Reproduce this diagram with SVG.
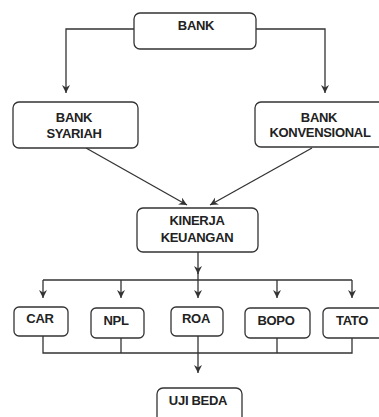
<svg xmlns="http://www.w3.org/2000/svg" width="379" height="417" viewBox="0 0 379 417">
<style>
.box{fill:#fff;stroke:#333;stroke-width:1.3}
.ln{fill:none;stroke:#333;stroke-width:1.3}
.t{font-family:"Liberation Sans",Arial,sans-serif;font-weight:bold;font-size:13px;fill:#222;text-anchor:middle;letter-spacing:-0.3px}
</style>
<defs>
<marker id="ah" markerUnits="userSpaceOnUse" markerWidth="10" markerHeight="10" refX="8" refY="4" orient="auto">
<path d="M0,0 L8,4 L0,8 L2.5,4 z" fill="#333"/>
</marker>
</defs>
<rect width="379" height="417" fill="#fff"/>
<g id="connectors">
<path class="ln" d="M134,29 H66 V93" marker-end="url(#ah)"/>
<path class="ln" d="M256,29 H325 V93" marker-end="url(#ah)"/>
<path class="ln" d="M86,148 L187,205" marker-end="url(#ah)"/>
<path class="ln" d="M312,148 L210,205" marker-end="url(#ah)"/>
<path class="ln" d="M198,252 V274" marker-end="url(#ah)"/>
<path class="ln" d="M198,272 V280"/>
<path class="ln" d="M43,280 H352"/>
<path class="ln" d="M43,280 V298" marker-end="url(#ah)"/>
<path class="ln" d="M121,280 V298" marker-end="url(#ah)"/>
<path class="ln" d="M198,280 V298" marker-end="url(#ah)"/>
<path class="ln" d="M277,280 V298" marker-end="url(#ah)"/>
<path class="ln" d="M352,280 V298" marker-end="url(#ah)"/>
<path class="ln" d="M43,336 V353 H352 V337"/>
<path class="ln" d="M121,338 V353"/>
<path class="ln" d="M277,338 V353"/>
<path class="ln" d="M198,336 V373" marker-end="url(#ah)"/>
</g>
<g id="bank"><rect class="box" x="134" y="13" width="122" height="36" rx="6"/><text class="t" x="196" y="30">BANK</text></g>
<g id="bank-syariah"><rect class="box" x="13" y="102" width="125" height="46" rx="6"/><text class="t" x="74" y="122">BANK</text><text class="t" x="74" y="138">SYARIAH</text></g>
<g id="bank-konvensional"><rect class="box" x="255" y="102" width="130" height="45" rx="6"/><text class="t" x="319" y="122">BANK</text><text class="t" x="320" y="137">KONVENSIONAL</text></g>
<g id="kinerja"><rect class="box" x="137" y="208" width="121" height="44" rx="6"/><text class="t" x="197" y="225">KINERJA</text><text class="t" x="197" y="242">KEUANGAN</text></g>
<g id="car"><rect class="box" x="14" y="307" width="54" height="29" rx="5"/><text class="t" x="40" y="323">CAR</text></g>
<g id="npl"><rect class="box" x="91" y="308" width="53" height="30" rx="5"/><text class="t" x="116" y="325">NPL</text></g>
<g id="roa"><rect class="box" x="171" y="307" width="52" height="29" rx="5"/><text class="t" x="196" y="323">ROA</text></g>
<g id="bopo"><rect class="box" x="245" y="308" width="65" height="30" rx="5"/><text class="t" x="276" y="325">BOPO</text></g>
<g id="tato"><rect class="box" x="323" y="308" width="62" height="30" rx="5"/><text class="t" x="352" y="325">TATO</text></g>
<g id="uji-beda"><rect class="box" x="157" y="388" width="85" height="40" rx="6"/><text class="t" x="198" y="405">UJI BEDA</text></g>
</svg>
